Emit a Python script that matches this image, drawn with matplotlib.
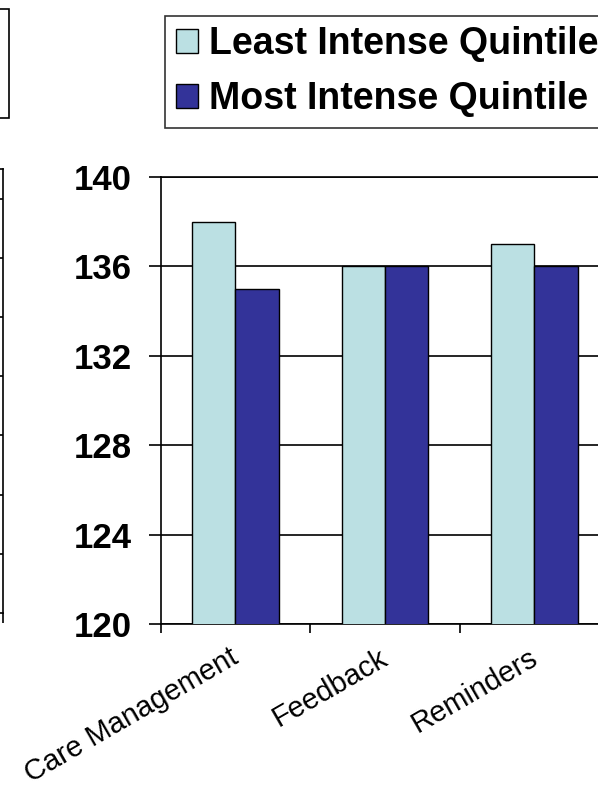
import matplotlib
matplotlib.use('Agg')
import matplotlib.pyplot as plt
import matplotlib.transforms as mtransforms
from matplotlib.patches import Rectangle
import numpy as np

plt.rcParams['font.family'] = ['Liberation Sans', 'DejaVu Sans']

# data
categories = ['Care Management', 'Feedback', 'Reminders']
least_intense = [138, 136, 137]
most_intense = [135, 136, 136]
series_names = ['Least Intense Quintile', 'Most Intense Quintile']
yticks = [120, 124, 128, 132, 136, 140]

light = '#BBE0E3'
dark = '#333399'

W, H = 598, 800
fig = plt.figure(figsize=(W / 100, H / 100), dpi=100)

# cut-off neighbour chart on the left edge
ax0 = fig.add_axes([-0.2, (H - 613) / H, 0.2 + 3 / W, 444 / H])
ax0.set_ylim(0, 7.5)
ax0.set_xlim(0, 1)
for k in range(1, 8):
  ax0.axhline(k, color='black', lw=1.2)
ax0.set_yticks([])
ax0.set_xticks([1])
ax0.tick_params(axis='x', length=7, width=1.2, labelbottom=False)
for s in ax0.spines.values():
  s.set_linewidth(1.2)
fig.add_artist(Rectangle((-0.05, 1 - 118 / H), 0.05 + 9 / W, 109 / H,
                         transform=fig.transFigure, fill=False,
                         edgecolor='black', lw=1.2))

# main chart
ax = fig.add_axes([160.7 / W, (H - 624) / H, 3 * 149.5 / W, 447 / H])
x = np.arange(len(categories))
w = 0.288
ax.bar(x - w / 2, least_intense, w, color=light, edgecolor='black', lw=1.0,
       label=series_names[0], zorder=3)
ax.bar(x + w / 2, most_intense, w, color=dark, edgecolor='black', lw=1.0,
       label=series_names[1], zorder=3)
ax.set_ylim(120, 140)
ax.set_xlim(-0.5, len(categories) - 0.5)
ax.set_yticks(yticks)
ax.set_yticklabels([str(v) for v in yticks], fontsize=25, fontweight='bold')
ax.yaxis.grid(True, color='black', lw=1.2, zorder=0)
ax.tick_params(axis='y', direction='out', length=8.6, width=1.2, pad=12)

ax.set_xticks(np.arange(len(categories) + 1) - 0.5)
ax.set_xticklabels([])
ax.tick_params(axis='x', which='major', direction='out', length=6.5,
               width=1.2)
ax.set_xticks(x, minor=True)
ax.set_xticklabels(categories, minor=True, fontsize=21, rotation=30,
                   ha='right')
ax.tick_params(axis='x', which='minor', length=0, pad=14)
shift = mtransforms.ScaledTranslation(8 / 100, 0, fig.dpi_scale_trans)
for lab in ax.get_xticklabels(minor=True):
  lab.set_transform(lab.get_transform() + shift)
for s in ax.spines.values():
  s.set_linewidth(1.2)

leg = ax.legend(loc='upper left', bbox_to_anchor=(165 / W, 1 - 16 / H),
                bbox_transform=fig.transFigure, frameon=True, fancybox=False,
                prop={'size': 27, 'weight': 'bold'}, handlelength=0.6,
                handleheight=0.6, handletextpad=0.3, labelspacing=0.5,
                borderpad=0.28, borderaxespad=0)
leg.get_frame().set_edgecolor('black')
leg.get_frame().set_linewidth(1.2)

fig.savefig('out.png', dpi=100)
